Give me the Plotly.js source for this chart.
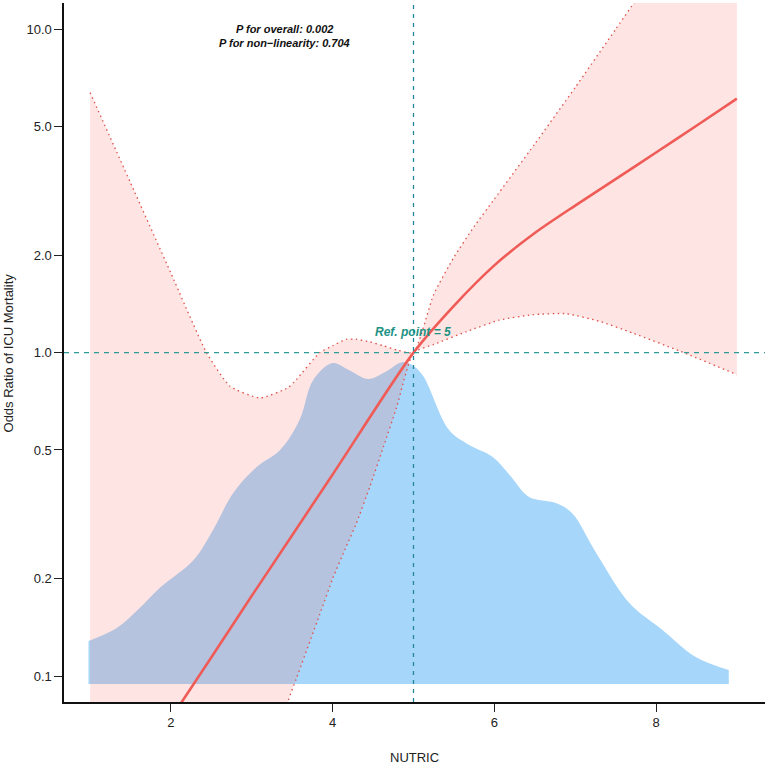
<!DOCTYPE html>
<html>
<head>
<meta charset="utf-8">
<script src="https://cdn.plot.ly/plotly-3.0.1.min.js"></script>
<style>
  html, body { margin: 0; padding: 0; background: #ffffff; }
  #chart { width: 767px; height: 766px; }
</style>
</head>
<body>
<div id="chart"></div>
<script>
// NUTRIC density (kernel estimate, arbitrary units)
const densityX = [0.98, 1.33, 1.6, 1.86, 2.28, 2.52, 2.77, 3.06, 3.35, 3.59, 3.76, 4.0, 4.2, 4.44, 4.65, 4.87, 5.0, 5.12, 5.44, 5.69, 5.98, 6.2, 6.43, 6.76, 6.96, 7.26, 7.67, 8.08, 8.49, 8.9];
const densityY = [0.043, 0.056, 0.075, 0.096, 0.124, 0.154, 0.191, 0.217, 0.234, 0.264, 0.304, 0.321, 0.314, 0.305, 0.312, 0.322, 0.318, 0.308, 0.254, 0.239, 0.227, 0.208, 0.187, 0.181, 0.171, 0.131, 0.081, 0.054, 0.027, 0.014];

// odds ratio curve
const orX = [1, 2, 3, 4, 5, 5.5, 6, 6.5, 7, 7.5, 8, 8.5, 9];
const orY = [0.032, 0.074, 0.177, 0.42, 1.0, 1.396, 1.862, 2.344, 2.85, 3.44, 4.16, 5.03, 6.1];

// 95% confidence band
const upperX = [1, 1.5, 2, 2.44, 2.73, 3.1, 3.45, 3.55, 3.84, 4.0, 4.17, 4.29, 4.46, 4.63, 4.79, 5.0, 5.25, 5.5, 5.75, 6.0, 6.5, 7.0, 7.5, 8.0, 9.0];
const upperY = [6.37, 3.35, 1.76, 1.0, 0.787, 0.724, 0.78, 0.825, 1.0, 1.05, 1.1, 1.1, 1.08, 1.05, 1.02, 1.0, 1.514, 1.972, 2.455, 2.985, 4.416, 6.607, 10.0, 15.14, 34.7];
const lowerX = [1, 1.5, 2, 2.44, 2.73, 3.1, 3.45, 3.55, 3.84, 4.0, 4.17, 4.29, 4.46, 4.63, 4.79, 5.0, 5.25, 5.65, 6.06, 6.47, 6.89, 7.3, 7.71, 8.3, 9.0];
const lowerY = [0.0015, 0.003, 0.007, 0.014, 0.023, 0.045, 0.084, 0.098, 0.155, 0.2, 0.252, 0.295, 0.385, 0.513, 0.676, 1.0, 1.06, 1.16, 1.26, 1.31, 1.32, 1.25, 1.15, 1.01, 0.855];

const xTicks = [2, 4, 6, 8];
const yTicks = [0.1, 0.2, 0.5, 1, 2, 5, 10];
const yTickText = ["0.1", "0.2", "0.5", "1.0", "2.0", "5.0", "10.0"];

const refPoint = 5;
const pOverall = "0.002";
const pNonLinear = "0.704";

const FONT = "Liberation Sans, Arial, sans-serif";
const RED = "#ef5b57";
const PINK = "rgba(248, 118, 109, 0.2)";

function ciLine(xValues, yValues, fill) {
  const trace = {
    x: xValues,
    y: yValues,
    yaxis: "y2",
    type: "scatter",
    mode: "lines",
    line: { color: "#e0504b", width: 1.3, dash: "1.5px,3.5px", shape: "spline", smoothing: 0.5 },
    hoverinfo: "skip",
  };
  if (fill) {
    trace.fill = "tonexty";
    trace.fillcolor = PINK;
  }
  return trace;
}

const traces = [
  {
    x: densityX,
    y: densityY,
    yaxis: "y",
    type: "scatter",
    mode: "lines",
    line: { width: 0, shape: "spline", smoothing: 1 },
    fill: "tozeroy",
    fillcolor: "#a6d6fa",
    hoverinfo: "skip",
  },
  ciLine(lowerX, lowerY, false),
  ciLine(upperX, upperY, true),
  {
    x: orX,
    y: orY,
    yaxis: "y2",
    type: "scatter",
    mode: "lines",
    line: { color: RED, width: 2.6, shape: "spline", smoothing: 0.8 },
    hoverinfo: "skip",
  },
];

const axisBase = {
  ticks: "outside",
  ticklen: 8,
  tickwidth: 1,
  tickcolor: "#222222",
  showline: true,
  linecolor: "#111111",
  linewidth: 1.6,
  showgrid: false,
  zeroline: false,
  tickfont: { family: FONT, size: 13, color: "#222222" },
};

const layout = {
  width: 767,
  height: 766,
  margin: { l: 64, r: 2, t: 3, b: 64 },
  paper_bgcolor: "#ffffff",
  plot_bgcolor: "#ffffff",
  showlegend: false,
  font: { family: FONT, size: 13, color: "#222222" },
  xaxis: {
    ...axisBase,
    range: [0.677, 9.348],
    tickvals: xTicks,
    ticktext: xTicks.map(String),
  },
  yaxis: {
    range: [-0.018, 0.681],
    showticklabels: false,
    showgrid: false,
    zeroline: false,
    showline: false,
    ticks: "",
  },
  yaxis2: {
    ...axisBase,
    type: "log",
    overlaying: "y",
    side: "left",
    anchor: "x",
    range: [-1.0804, 1.0813],
    tickvals: yTicks,
    ticktext: yTickText,
  },
  shapes: [
    {
      type: "line",
      layer: "above",
      xref: "x",
      yref: "paper",
      x0: refPoint,
      x1: refPoint,
      y0: 0,
      y1: 1,
      line: { color: "#23869a", width: 1.3, dash: "4px,5px" },
    },
    {
      type: "line",
      layer: "above",
      xref: "paper",
      yref: "y2",
      x0: 0,
      x1: 1,
      y0: 1,
      y1: 1,
      line: { color: "#2e9c94", width: 1.3, dash: "5px,5px" },
    },
  ],
  annotations: [
    {
      xref: "paper",
      yref: "paper",
      x: 0.315,
      y: 0.963,
      text: `<b><i>P for overall: ${pOverall}</i></b>`,
      showarrow: false,
      xanchor: "center",
      yanchor: "middle",
      font: { family: FONT, size: 11, color: "#111111" },
    },
    {
      xref: "paper",
      yref: "paper",
      x: 0.315,
      y: 0.943,
      text: `<b><i>P for non\u2212linearity: ${pNonLinear}</i></b>`,
      showarrow: false,
      xanchor: "center",
      yanchor: "middle",
      font: { family: FONT, size: 11, color: "#111111" },
    },
    {
      xref: "x",
      yref: "y2",
      x: refPoint,
      y: 0,
      yshift: 12,
      text: `<b><i>Ref. point = ${refPoint}</i></b>`,
      showarrow: false,
      xanchor: "center",
      yanchor: "bottom",
      font: { family: FONT, size: 12, color: "#1e9284" },
    },
    {
      xref: "paper",
      yref: "paper",
      x: -0.0785,
      y: 0.5,
      text: "Odds Ratio of ICU Mortality",
      textangle: -90,
      showarrow: false,
      xanchor: "center",
      yanchor: "middle",
      font: { family: FONT, size: 13, color: "#222222" },
    },
    {
      xref: "paper",
      yref: "paper",
      x: 0.5,
      y: -0.08,
      text: "NUTRIC",
      showarrow: false,
      xanchor: "center",
      yanchor: "middle",
      font: { family: FONT, size: 13, color: "#222222" },
    },
  ],
};

Plotly.newPlot("chart", traces, layout, { displayModeBar: false, staticPlot: true });
</script>
</body>
</html>
